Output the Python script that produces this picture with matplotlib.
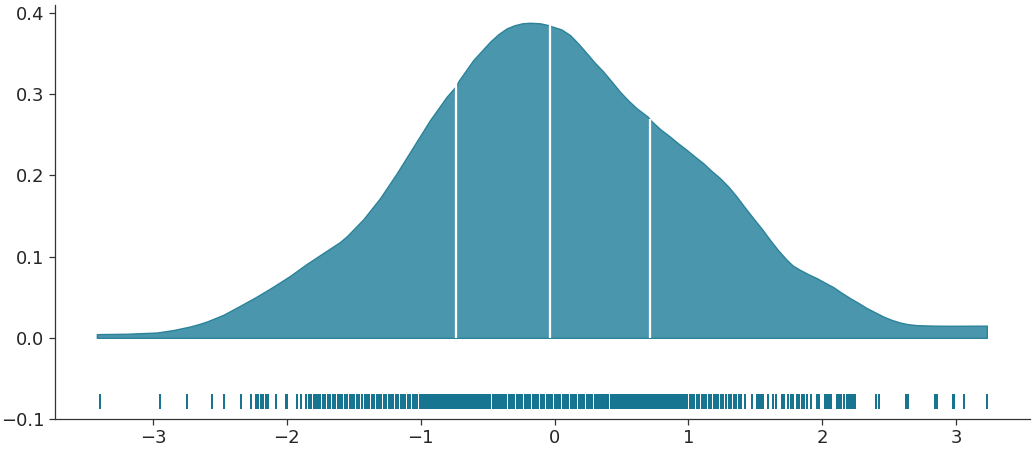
import matplotlib.pyplot as plt

# density curve
curve_x = [-3.42, -3.396, -3.20, -2.972, -2.85, -2.724, -2.66, -2.599, -2.475, -2.350,
           -2.225, -2.101, -1.976, -1.852, -1.728, -1.603, -1.553, -1.429, -1.304, -1.179,
           -1.055, -0.930, -0.806, -0.736, -0.716, -0.607, -0.482, -0.42, -0.357, -0.30,
           -0.24, -0.183, -0.110, -0.046, -0.028, 0.05, 0.116, 0.18, 0.241, 0.30,
           0.365, 0.43, 0.489, 0.55, 0.614, 0.696, 0.721, 0.79, 0.863, 0.92,
           0.988, 1.05, 1.112, 1.17, 1.237, 1.30, 1.361, 1.42, 1.485, 1.55,
           1.610, 1.67, 1.735, 1.78, 1.834, 1.90, 1.959, 2.02, 2.083, 2.14,
           2.208, 2.27, 2.333, 2.40, 2.457, 2.52, 2.582, 2.64, 2.706, 2.83,
           2.955, 3.23]
curve_y = [0.0045, 0.0046, 0.0050, 0.0065, 0.0095, 0.0139, 0.0168, 0.0200, 0.0283, 0.0394,
           0.0508, 0.0631, 0.0763, 0.0910, 0.1045, 0.1180, 0.1250, 0.1460, 0.1720, 0.2027,
           0.2354, 0.2683, 0.2970, 0.3102, 0.3167, 0.3422, 0.3647, 0.3740, 0.3812, 0.3850,
           0.3875, 0.3881, 0.3875, 0.3852, 0.3840, 0.3800, 0.3729, 0.3620, 0.3504, 0.3390,
           0.3278, 0.3150, 0.3031, 0.2925, 0.2827, 0.2724, 0.2674, 0.2570, 0.2478, 0.2400,
           0.2314, 0.2230, 0.2150, 0.2060, 0.1966, 0.1860, 0.1739, 0.1610, 0.1473, 0.1340,
           0.1206, 0.1080, 0.0960, 0.0890, 0.0837, 0.0780, 0.0735, 0.0680, 0.0624, 0.0560,
           0.0489, 0.0430, 0.0366, 0.0310, 0.0262, 0.0220, 0.0188, 0.0168, 0.0156, 0.0150,
           0.0148, 0.0150]

# quartiles and curve height there
quart_x = [-0.736, -0.037, 0.71]
quart_h = [0.316, 0.385, 0.270]

# rug positions
rug = [-3.40, -2.946, -2.744, -2.557, -2.467, -2.345, -2.266, -2.233, -2.215, -2.195,
       -2.175, -2.155, -2.139, -2.081, -2.009, -1.997, -1.922, -1.897, -1.86,
       -1.835, -1.82, -1.80, -1.785, -1.765, -1.75, -1.73, -1.715, -1.69, -1.675,
       -1.655, -1.64, -1.62, -1.60, -1.585, -1.565, -1.55, -1.53, -1.51, -1.495,
       -1.475, -1.46, -1.44, -1.42, -1.40, -1.385, -1.365, -1.35, -1.33, -1.31,
       -1.295, -1.275, -1.26, -1.24, -1.22, -1.205, -1.185, -1.17, -1.15, -1.13,
       -1.115, -1.095, -1.08, -1.06, -1.04, -1.025, -1.005,
       -0.99, -0.977, -0.96, -0.946, -0.93, -0.913, -0.90, -0.887, -0.87, -0.853,
       -0.84, -0.826, -0.81, -0.793, -0.78, -0.767, -0.75, -0.733, -0.72, -0.704,
       -0.69, -0.676, -0.66, -0.643, -0.63, -0.616, -0.60, -0.584, -0.57, -0.556,
       -0.54, -0.524, -0.51, -0.497, -0.48, -0.463, -0.45, -0.436, -0.42, -0.404,
       -0.39, -0.377, -0.36, -0.343, -0.33, -0.316, -0.30, -0.284, -0.27, -0.257,
       -0.24, -0.223, -0.21, -0.196, -0.18, -0.163, -0.15, -0.137, -0.12, -0.103,
       -0.09, -0.077, -0.06, -0.043, -0.03, -0.016, 0.0, 0.017, 0.03, 0.044,
       0.06, 0.077, 0.09, 0.103, 0.12, 0.136, 0.15, 0.164, 0.18, 0.197,
       0.21, 0.223, 0.24, 0.257, 0.27, 0.283, 0.30, 0.316, 0.33, 0.344,
       0.36, 0.377, 0.39, 0.403, 0.42, 0.436, 0.45, 0.464, 0.48, 0.497,
       0.51, 0.523, 0.54, 0.557, 0.57, 0.583, 0.60, 0.616, 0.63, 0.644,
       0.66, 0.677, 0.69, 0.703, 0.72, 0.736, 0.75, 0.764, 0.78, 0.797,
       0.81, 0.823, 0.84, 0.857, 0.87, 0.883, 0.90, 0.916, 0.93, 0.944,
       0.96, 0.977, 0.99,
       1.01, 1.03, 1.045, 1.065, 1.08, 1.10, 1.12, 1.135, 1.155, 1.17,
       1.19, 1.21, 1.225, 1.245, 1.26, 1.28, 1.30, 1.32, 1.34, 1.355,
       1.375, 1.395, 1.423, 1.474, 1.511, 1.525, 1.54, 1.56, 1.598, 1.635,
       1.655, 1.698, 1.715, 1.743, 1.767, 1.785, 1.810, 1.829, 1.847, 1.864,
       1.884, 1.917, 1.959, 1.976, 2.021, 2.035, 2.05, 2.066, 2.109, 2.126,
       2.139, 2.165, 2.183, 2.201, 2.213, 2.233, 2.245, 2.40, 2.425, 2.626,
       2.644, 2.843, 2.856, 2.975, 2.987, 3.060, 3.234]

fill_col = '#4a97ad'
edge_col = '#2b8299'
rug_col = '#11728f'
text_col = '#262626'

fig = plt.figure(figsize=(10.35, 4.5), dpi=100)
ax = fig.add_axes([0.0531, 0.0689, 0.9421, 0.92])

ax.fill_between(curve_x, 0, curve_y, facecolor=fill_col, edgecolor=edge_col, linewidth=1)
ax.vlines(quart_x, 0, quart_h, color='white', linewidth=1.6)
ax.vlines(rug, -0.0875, -0.0692, color=rug_col, linewidth=1.4)

ax.set_xlim(-3.733, 3.553)
ax.set_ylim(-0.1, 0.41)
ax.set_xticks([-3, -2, -1, 0, 1, 2, 3])
ax.set_yticks([-0.1, 0.0, 0.1, 0.2, 0.3, 0.4])

for s in ['top', 'right']:
    ax.spines[s].set_visible(False)
for s in ['left', 'bottom']:
    ax.spines[s].set_color('#333333')
    ax.spines[s].set_linewidth(0.9)
ax.tick_params(axis='both', labelsize=13, colors='#333333', labelcolor=text_col, length=4, width=0.9)

fig.savefig('out.png', dpi=100)
